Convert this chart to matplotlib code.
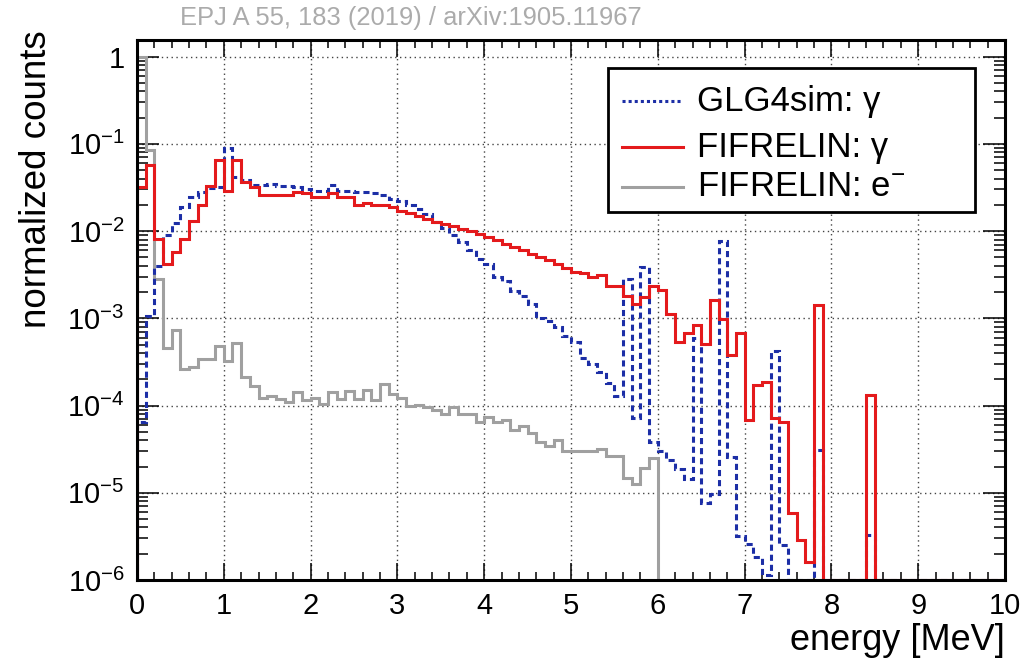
import numpy as np
import matplotlib
matplotlib.use("Agg")
import matplotlib.pyplot as plt
from matplotlib.ticker import FixedLocator, FixedFormatter, LogLocator, MultipleLocator, NullFormatter
from matplotlib.lines import Line2D
from matplotlib.patches import Rectangle

# ---- data: normalized counts per 0.1 MeV bin, 0-10 MeV ----
bin_edges = np.linspace(0.0, 10.0, 101)

glg4sim_gamma = [
    6.5e-5, 1.05e-3, 4.0e-3, 8.9e-3, 1.25e-2, 1.88e-2, 2.45e-2, 2.8e-2, 3.1e-2, 3.2e-2,
    9.0e-2, 4.2e-2, 3.8e-2, 3.4e-2, 3.35e-2, 3.5e-2, 3.3e-2, 3.3e-2, 3.2e-2, 3.06e-2,
    2.9e-2, 2.9e-2, 3.4e-2, 2.85e-2, 2.85e-2, 2.8e-2, 2.8e-2, 2.7e-2, 2.6e-2, 2.35e-2,
    2.2e-2, 1.98e-2, 1.8e-2, 1.58e-2, 1.26e-2, 1.08e-2, 8.9e-3, 7.5e-3, 6.0e-3, 4.8e-3,
    4.2e-3, 2.95e-3, 2.7e-3, 2.07e-3, 1.82e-3, 1.46e-3, 1.02e-3, 9.4e-4, 8.0e-4, 6.2e-4,
    5.3e-4, 3.55e-4, 3.0e-4, 2.4e-4, 1.8e-4, 1.29e-4, 2.8e-3, 7.2e-5, 3.85e-3, 3.8e-5,
    3.0e-5, 2.4e-5, 1.88e-5, 1.42e-5, 5.9e-4, 7.6e-6, 9.8e-6, 7.7e-3, 2.55e-5, 3.2e-6,
    2.6e-6, 1.85e-6, 1.15e-6, 4.2e-4, 2.55e-6, 0.0, 0.0, 0.0, 3.1e-5, 0.0,
    0.0, 0.0, 0.0, 0.0, 3.3e-6, 0.0, 0.0, 0.0, 0.0, 0.0,
    0.0, 0.0, 0.0, 0.0, 0.0, 0.0, 0.0, 0.0, 0.0, 0.0,
]

fifrelin_gamma = [
    3.2e-2, 5.7e-2, 8.1e-3, 4.2e-3, 5.7e-3, 8.1e-3, 1.32e-2, 2.0e-2, 3.3e-2, 6.5e-2,
    2.9e-2, 6.5e-2, 3.7e-2, 3.2e-2, 2.56e-2, 2.56e-2, 2.56e-2, 2.56e-2, 2.8e-2, 2.7e-2,
    2.45e-2, 2.45e-2, 2.7e-2, 2.45e-2, 2.45e-2, 1.97e-2, 2.1e-2, 1.97e-2, 1.97e-2, 1.88e-2,
    1.72e-2, 1.6e-2, 1.47e-2, 1.38e-2, 1.26e-2, 1.2e-2, 1.13e-2, 1.07e-2, 1.0e-2, 9.3e-3,
    8.5e-3, 7.8e-3, 7.1e-3, 6.65e-3, 6.0e-3, 5.5e-3, 5.0e-3, 4.6e-3, 4.2e-3, 3.8e-3,
    3.4e-3, 3.3e-3, 3.0e-3, 3.1e-3, 2.37e-3, 2.37e-3, 1.82e-3, 1.46e-3, 1.74e-3, 2.37e-3,
    2.1e-3, 1.12e-3, 5.3e-4, 6.7e-4, 8.4e-4, 5.1e-4, 1.6e-3, 9.8e-4, 3.8e-4, 6.7e-4,
    6.8e-5, 1.7e-4, 1.85e-4, 7.2e-5, 6.4e-5, 5.9e-6, 2.9e-6, 1.6e-6, 1.42e-3, 0.0,
    0.0, 0.0, 0.0, 0.0, 1.32e-4, 0.0, 0.0, 0.0, 0.0, 0.0,
    0.0, 0.0, 0.0, 0.0, 0.0, 0.0, 0.0, 0.0, 0.0, 0.0,
]

fifrelin_electron = [
    1.0, 8.4e-2, 2.8e-3, 4.6e-4, 7.3e-4, 2.6e-4, 2.75e-4, 3.4e-4, 3.45e-4, 4.8e-4,
    3.2e-4, 5.15e-4, 2.13e-4, 1.68e-4, 1.21e-4, 1.29e-4, 1.18e-4, 1.11e-4, 1.44e-4, 1.15e-4,
    1.23e-4, 1.03e-4, 1.44e-4, 1.18e-4, 1.47e-4, 1.18e-4, 1.49e-4, 1.17e-4, 1.78e-4, 1.36e-4,
    1.23e-4, 9.8e-5, 1.02e-4, 9.6e-5, 8.9e-5, 7.9e-5, 9.6e-5, 7.9e-5, 7.9e-5, 6.4e-5,
    7.3e-5, 6.4e-5, 6.8e-5, 5.2e-5, 5.8e-5, 4.9e-5, 3.85e-5, 3.4e-5, 4.0e-5, 3.0e-5,
    3.0e-5, 3.0e-5, 3.05e-5, 3.2e-5, 2.64e-5, 2.64e-5, 1.49e-5, 1.25e-5, 1.9e-5, 2.5e-5,
    0.0, 0.0, 0.0, 0.0, 0.0, 0.0, 0.0, 0.0, 0.0, 0.0,
    0.0, 0.0, 0.0, 0.0, 0.0, 0.0, 0.0, 0.0, 0.0, 0.0,
    0.0, 0.0, 0.0, 0.0, 0.0, 0.0, 0.0, 0.0, 0.0, 0.0,
    0.0, 0.0, 0.0, 0.0, 0.0, 0.0, 0.0, 0.0, 0.0, 0.0,
]

legend_labels = ["GLG4sim: γ", "FIFRELIN: γ", "FIFRELIN: e$^{-}$"]
y_tick_values = [1e-6, 1e-5, 1e-4, 1e-3, 1e-2, 1e-1, 1.0]
y_tick_labels = [r"$10^{-6}$", r"$10^{-5}$", r"$10^{-4}$", r"$10^{-3}$",
                 r"$10^{-2}$", r"$10^{-1}$", "1"]
x_tick_values = list(range(0, 11))

# ---- style ----
plt.rcParams["font.family"] = ["Liberation Sans", "DejaVu Sans"]
plt.rcParams["mathtext.fontset"] = "custom"
plt.rcParams["mathtext.rm"] = "Liberation Sans"
plt.rcParams["mathtext.it"] = "Liberation Sans:italic"
plt.rcParams["mathtext.bf"] = "Liberation Sans:bold"
plt.rcParams["mathtext.default"] = "regular"

BLUE = "#1c2ea6"
RED = "#e41a1c"
GRAY = "#a0a0a0"
Y_MIN, Y_MAX = 1e-6, 1.55

W, H = 1032, 664
fig = plt.figure(figsize=(W / 100, H / 100), dpi=100)
ax = fig.add_axes([137 / W, 1 - 580 / H, (1005 - 137) / W, (580 - 40) / H])
ax.set_yscale("log")


def floor(vals):
    v = np.asarray(vals, dtype=float)
    return np.where(v > 0, v, Y_MIN)


series = [
    (fifrelin_electron, GRAY, "-"),
    (glg4sim_gamma, BLUE, (0, (2.0, 1.3))),
    (fifrelin_gamma, RED, "-"),
]
for i, (vals, col, ls) in enumerate(series):
    ax.stairs(floor(vals), bin_edges, baseline=Y_MIN, color=col, lw=2.2,
              linestyle=ls, zorder=2 + 0.1 * i)

ax.set_xlim(0, 10)
ax.set_ylim(Y_MIN, Y_MAX)

ax.xaxis.set_major_locator(FixedLocator(x_tick_values))
ax.xaxis.set_minor_locator(MultipleLocator(0.2))
ax.yaxis.set_major_locator(FixedLocator(y_tick_values))
ax.yaxis.set_major_formatter(FixedFormatter(y_tick_labels))
ax.yaxis.set_minor_locator(LogLocator(base=10, subs=np.arange(2, 10)))
ax.yaxis.set_minor_formatter(NullFormatter())

ax.tick_params(which="both", direction="in", top=True, right=True, width=1.1,
               color="black", labelsize=21)
ax.tick_params(axis="x", which="major", length=12, pad=9)
ax.tick_params(axis="x", which="minor", length=6)
ax.tick_params(axis="y", which="major", length=16, pad=9)
ax.tick_params(axis="y", which="minor", length=8)

ax.grid(True, which="major", linestyle=(0, (1, 2.5)), color="#444444", lw=1.0)
for sp in ax.spines.values():
    sp.set_linewidth(2.2)
    sp.set_zorder(3)

# legend box with one line sample and label per series
box_l, box_r, box_t, box_b = 608, 975, 68, 212
fig.add_artist(Rectangle((box_l / W, 1 - box_b / H), (box_r - box_l) / W,
                         (box_b - box_t) / H, transform=fig.transFigure,
                         facecolor="white", edgecolor="black", lw=2.0, zorder=5))
legend_order = [1, 2, 0]  # blue, red, gray rows
row_y = [101, 147, 187]
for row, idx in enumerate(legend_order):
    vals, col, ls = series[idx]
    yy = 1 - row_y[row] / H
    sample_ls = (0, (1.0, 1.0)) if ls != "-" else "-"
    fig.add_artist(Line2D([622 / W, 683 / W], [yy, yy], transform=fig.transFigure,
                          color=col, lw=2.2, linestyle=sample_ls, zorder=6))
    fig.text(697 / W, yy, legend_labels[row], ha="left", va="center", fontsize=25,
             zorder=6)

fig.text(37 / W, 1 - 30 / H, "normalized counts", rotation=90, ha="center", va="top",
         fontsize=26.5)
fig.text(1005 / W, 1 - 640 / H, "energy [MeV]", ha="right", va="center", fontsize=26)
fig.text(180 / W, 1 - 18 / H, "EPJ A 55, 183 (2019) / arXiv:1905.11967", ha="left",
         va="center", fontsize=18.4, color="#ababab")

fig.savefig("out.png", dpi=100)
